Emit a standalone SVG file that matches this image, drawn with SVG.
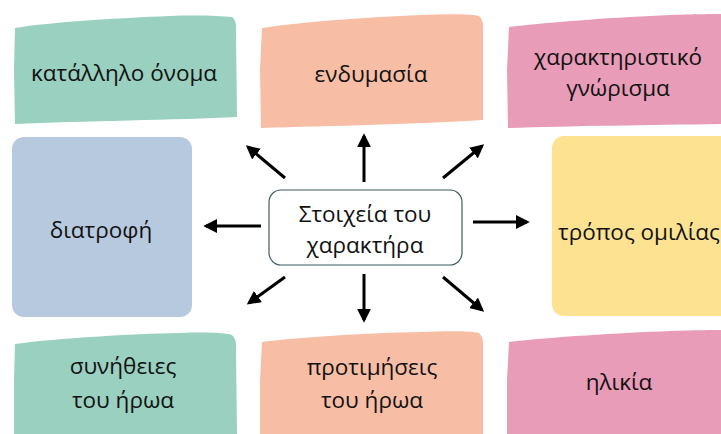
<svg xmlns="http://www.w3.org/2000/svg" width="721" height="434" viewBox="0 0 721 434">
<style>
text{font-family:"Open Sans","Noto Sans","DejaVu Sans",sans-serif;font-size:22.5px;fill:#111;text-anchor:middle}
.g{fill:#99d0bf}.s{fill:#f7bea5}.p{fill:#e89cb8}.b{fill:#b7c9df}.y{fill:#fde391}
.a{stroke:#000;stroke-width:3;fill:none;marker-end:url(#ah)}
</style>
<defs>
<marker id="ah" viewBox="0 0 10 10" refX="8" refY="5" markerWidth="4.6" markerHeight="4.6" orient="auto" markerUnits="strokeWidth">
<path d="M0,0 L10,5 L0,10 Z" fill="#000"/>
</marker>
</defs>
<rect width="721" height="434" fill="#fff"/>
<g id="n-onoma">
<path class="g" d="M15,28 C50,22 120,18 170,16 C200,15 220,16 232,17 Q237,20 236,32 L237,117 C180,120 80,121 15,124 L14,70 Z"/>
<text x="124" y="81">κατάλληλο όνομα</text>
</g>
<g id="n-endymasia">
<path class="s" d="M262,28 C300,22 370,17 420,15 C450,14 470,14 479,16 Q484,20 483,32 L483,120 C420,124 330,126 261,128 L260,70 Z"/>
<text x="371" y="82">ενδυμασία</text>
</g>
<g id="n-gnorisma">
<path class="p" d="M509,27 C550,22 620,17 670,15 C700,14 715,14 721,14 L721,124 C650,125 570,126 508,128 L507,70 Z"/>
<text x="618" y="65">χαρακτηριστικό</text>
<text x="618" y="96">γνώρισμα</text>
</g>
<g id="n-diatrofi">
<rect class="b" x="12" y="137" width="180" height="180" rx="12"/>
<text x="101" y="238">διατροφή</text>
</g>
<g id="n-center">
<rect x="269" y="190" width="193" height="75" rx="12" fill="#fff" stroke="#3d5a60" stroke-width="1.2"/>
<text x="365" y="222">Στοιχεία του</text>
<text x="365" y="253">χαρακτήρα</text>
</g>
<g id="n-tropos">
<rect class="y" x="552" y="136" width="190" height="180" rx="12"/>
<text x="558" y="240" style="text-anchor:start">τρόπος ομιλίας</text>
</g>
<g id="n-synitheies">
<path class="g" d="M15,344 C60,338 130,334 180,333 C210,332 225,333 232,335 Q237,339 236,350 L237,434 L14,434 L14,380 Z"/>
<text x="123" y="374">συνήθειες</text>
<text x="123" y="408">του ήρωα</text>
</g>
<g id="n-protimiseis">
<path class="s" d="M262,342 C300,337 370,333 420,332 C450,331 470,331 479,333 Q484,337 483,348 L483,434 L260,434 L260,380 Z"/>
<text x="372" y="375">προτιμήσεις</text>
<text x="372" y="408">του ήρωα</text>
</g>
<g id="n-ilikia">
<path class="p" d="M509,342 C550,337 620,333 670,331 C700,330 715,330 721,330 L721,434 L507,434 L507,380 Z"/>
<text x="619" y="390">ηλικία</text>
</g>
<g id="connectors">
<line class="a" x1="364" y1="182" x2="364" y2="136"/>
<line class="a" x1="285" y1="178" x2="248" y2="147"/>
<line class="a" x1="443" y1="178" x2="482" y2="146"/>
<line class="a" x1="261" y1="226" x2="206" y2="226"/>
<line class="a" x1="473" y1="222" x2="527" y2="222"/>
<line class="a" x1="285" y1="277" x2="249" y2="303"/>
<line class="a" x1="364" y1="274" x2="364" y2="320"/>
<line class="a" x1="443" y1="277" x2="482" y2="310"/>
</g>
</svg>
